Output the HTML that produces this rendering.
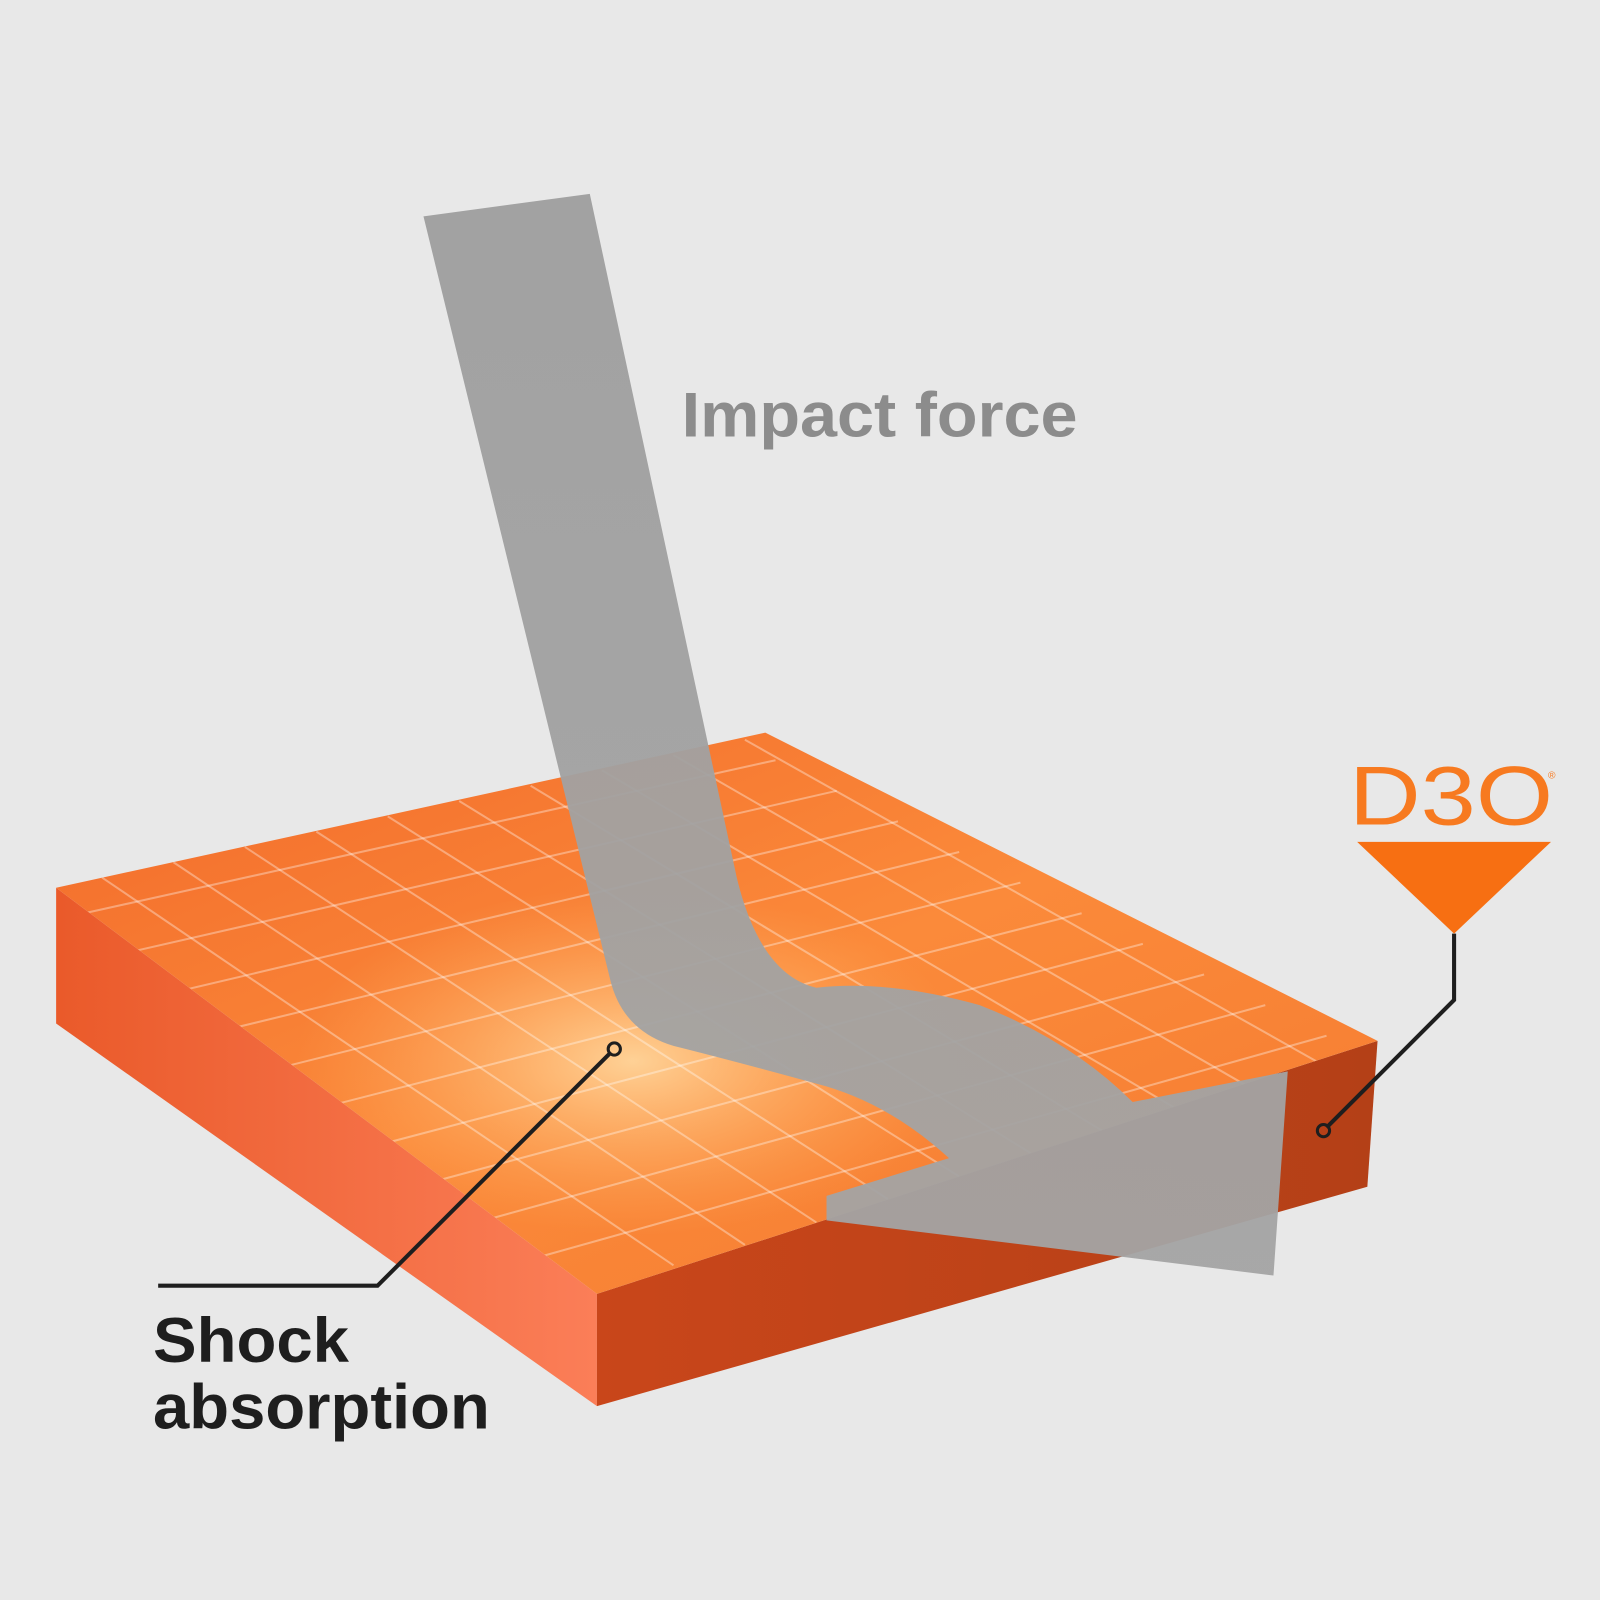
<!DOCTYPE html>
<html><head><meta charset="utf-8">
<style>
html,body{margin:0;padding:0;background:#e8e8e8;}
svg{display:block}
</style></head>
<body>
<svg width="1600" height="1600" viewBox="0 0 1568 1568" xmlns="http://www.w3.org/2000/svg">
<defs>
<linearGradient id="top" x1="0" y1="0" x2="1" y2="1">
<stop offset="0" stop-color="#f26a2a"/><stop offset="0.5" stop-color="#fb8a3a"/><stop offset="1" stop-color="#f57a30"/>
</linearGradient>
<linearGradient id="left" x1="0" y1="0" x2="1" y2="0">
<stop offset="0" stop-color="#ea5a2a"/><stop offset="1" stop-color="#fb7e58"/>
</linearGradient>
<linearGradient id="right" x1="0" y1="0" x2="1" y2="0">
<stop offset="0" stop-color="#c9461a"/><stop offset="1" stop-color="#b44017"/>
</linearGradient>
<radialGradient id="glow" cx="0.5" cy="0.5" r="0.5">
<stop offset="0" stop-color="#ffd9a0" stop-opacity="0.9"/><stop offset="1" stop-color="#ffb060" stop-opacity="0"/>
</radialGradient>
<linearGradient id="arr" x1="0" y1="0" x2="0" y2="1">
<stop offset="0" stop-color="#9e9e9e"/><stop offset="1" stop-color="#a4a4a4"/>
</linearGradient>
<clipPath id="tc"><polygon points="55,870 750,718 1350,1020 585,1268"/></clipPath>
</defs>
<rect width="1568" height="1568" fill="#e8e8e8"/>
<polygon points="55,870 585,1268 585,1378 55,1003" fill="url(#left)"/>
<polygon points="585,1268 1350,1020 1340,1163 585,1378" fill="url(#right)"/>
<polygon points="55,870 750,718 1350,1020 585,1268" fill="url(#top)"/>
<g clip-path="url(#tc)" stroke="#ffffff" stroke-opacity="0.35" stroke-width="2" fill="none">
<ellipse cx="620" cy="1040" rx="330" ry="170" fill="url(#glow)" stroke="none"/>
<path d="M100,860 L660,1240 M170,845 L730,1220 M240,830 L800,1198 M310,815 L870,1175 M380,800 L940,1153 M450,785 L1010,1130 M520,770 L1080,1108 M590,755 L1150,1085 M660,740 L1220,1063 M730,725 L1290,1040"/>
<path d="M60,900 L760,745 M110,937 L820,775 M160,975 L880,805 M210,1012 L940,835 M260,1050 L1000,865 M310,1087 L1060,895 M360,1125 L1120,925 M410,1162 L1180,955 M460,1200 L1240,985 M510,1237 L1300,1015"/>
</g>
<path d="M415,212 L578,190 L722,860 Q745,955 800,968 Q870,960 960,985 Q1050,1020 1110,1080 L1262,1050 L1248,1250 L810,1196 L810,1172 L930,1135 Q870,1080 800,1062 Q720,1040 660,1025 Q610,1010 598,960 Z" fill="url(#arr)" opacity="0.95"/>
<text x="668" y="428" textLength="388" lengthAdjust="spacingAndGlyphs" font-family="Liberation Sans, sans-serif" font-weight="bold" font-size="62" fill="#8c8c8c">Impact force</text>
<text x="150" y="1335" textLength="192" lengthAdjust="spacingAndGlyphs" font-family="Liberation Sans, sans-serif" font-weight="bold" font-size="62" fill="#1e1e1e">Shock</text>
<text x="150" y="1400" textLength="330" lengthAdjust="spacingAndGlyphs" font-family="Liberation Sans, sans-serif" font-weight="bold" font-size="62" fill="#1e1e1e">absorption</text>
<text x="1322" y="808" textLength="200" lengthAdjust="spacingAndGlyphs" font-family="Liberation Sans, sans-serif" font-size="82" fill="#f77a20">D3O</text>
<text x="1517" y="763" font-family="Liberation Sans, sans-serif" font-size="10" fill="#f77a20">®</text>
<polygon points="1330,825 1520,825 1425,915" fill="#f76f12"/>
<polyline points="1425,915 1425,980 1300,1105" fill="none" stroke="#1e1e1e" stroke-width="4"/>
<circle cx="1297" cy="1108" r="6" fill="none" stroke="#1e1e1e" stroke-width="3"/>
<polyline points="155,1260 370,1260 598,1032" fill="none" stroke="#1e1e1e" stroke-width="4"/>
<circle cx="602" cy="1028" r="6" fill="none" stroke="#1e1e1e" stroke-width="3"/>
</svg>
</body></html>
